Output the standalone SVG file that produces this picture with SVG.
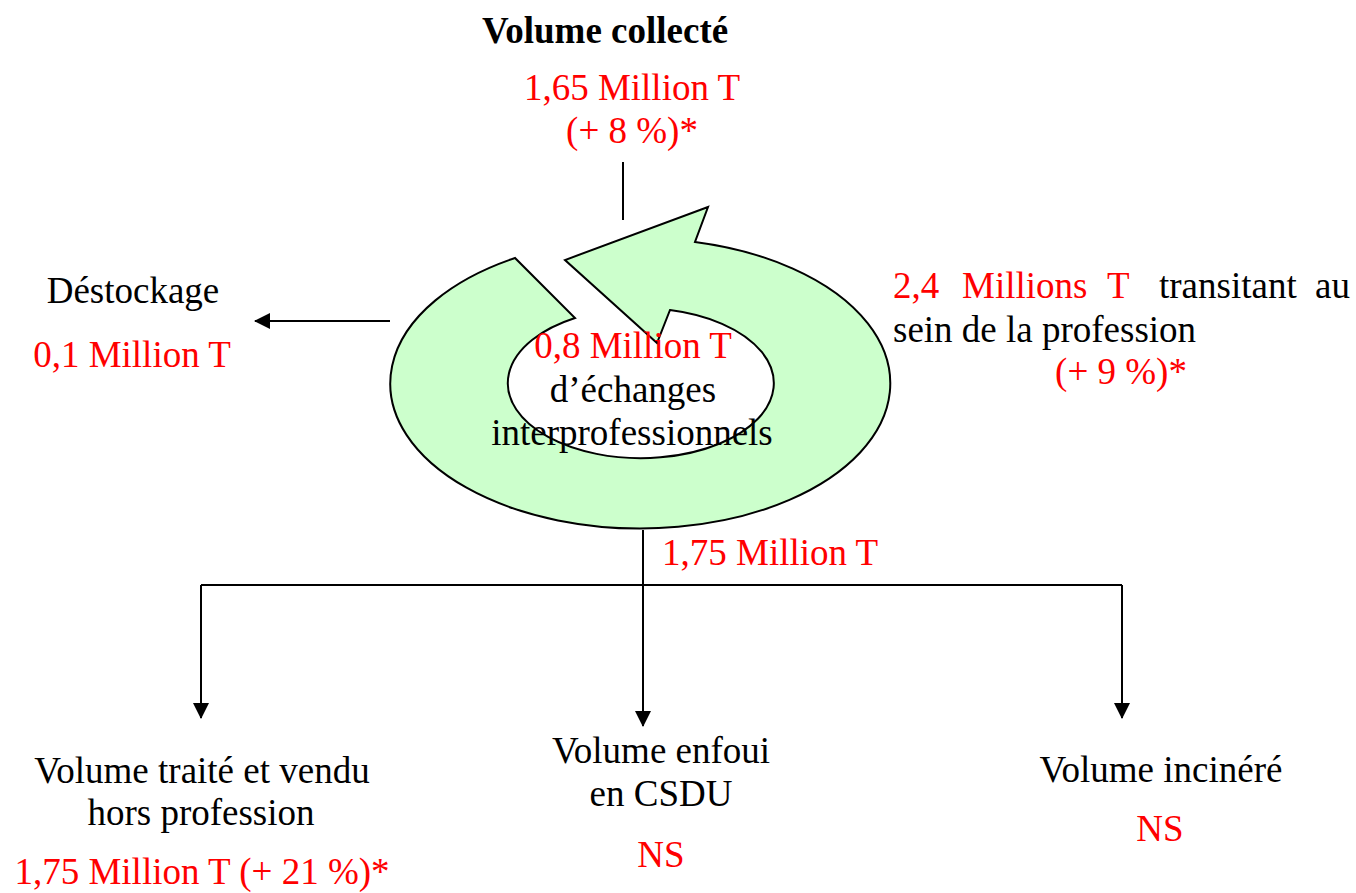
<svg xmlns="http://www.w3.org/2000/svg" width="1356" height="893" viewBox="0 0 1356 893">
<style>
text{font-family:"Liberation Serif","Times New Roman",serif;font-size:37px;fill:#000}
.r{fill:#ff0000}
.b{font-weight:bold}
.c{text-anchor:middle}
.ln{stroke:#000;stroke-width:2;fill:none}
</style>
<defs>
<marker id="ah" viewBox="0 0 16 16" refX="15" refY="8" markerWidth="16" markerHeight="16" markerUnits="userSpaceOnUse" orient="auto">
<path d="M0,0 L16,8 L0,16 Z" fill="#000"/>
</marker>
</defs>
<rect width="1356" height="893" fill="#fff"/>
<g id="cycle">
<path d="M695,242 A250,145 0 1 1 515,258 L575,318 A133,75 0 1 0 670,310 L657,343 L565,260 L708,207 Z" fill="#ccffcc" stroke="#000" stroke-width="2" stroke-linejoin="miter"/>
<text class="c r" x="633" y="358">0,8 Million T</text>
<text class="c" x="633" y="402">d’échanges</text>
<text class="c" x="632" y="445">interprofessionnels</text>
</g>
<g id="collecte">
<text class="c b" x="605" y="43">Volume collecté</text>
<text class="c r" x="632" y="100">1,65 Million T</text>
<text class="c r" x="632" y="143">(+ 8 %)*</text>
</g>
<g id="destockage">
<text class="c" x="133" y="303">Déstockage</text>
<text class="c r" x="132" y="367">0,1 Million T</text>
</g>
<g id="transit">
<text class="r" x="893" y="298">2,4</text>
<text class="r" x="962" y="298">Millions</text>
<text class="r" x="1107" y="298">T</text>
<text x="1159" y="298">transitant</text>
<text x="1350" y="298" text-anchor="end">au</text>
<text x="893" y="342">sein de la profession</text>
<text class="c r" x="1121" y="384">(+ 9 %)*</text>
</g>
<g id="sortie">
<text x="662" y="565" class="r">1,75 Million T</text>
</g>
<g id="vendu">
<text class="c" x="202" y="783">Volume traité et vendu</text>
<text class="c" x="201" y="825">hors profession</text>
<text class="c r" x="202" y="884">1,75 Million T (+ 21 %)*</text>
</g>
<g id="enfoui">
<text class="c" x="661" y="763">Volume enfoui</text>
<text class="c" x="661" y="806">en CSDU</text>
<text class="c r" x="661" y="867">NS</text>
</g>
<g id="incinere">
<text class="c" x="1161" y="782">Volume incinéré</text>
<text class="c r" x="1160" y="841">NS</text>
</g>
<g id="connectors">
<path class="ln" d="M623,162 V220"/>
<path class="ln" d="M390,321 H255" marker-end="url(#ah)"/>
<path class="ln" d="M643,530 V726" marker-end="url(#ah)"/>
<path class="ln" d="M201,585 H1122"/>
<path class="ln" d="M201,585 V718" marker-end="url(#ah)"/>
<path class="ln" d="M1122,585 V718" marker-end="url(#ah)"/>
</g>
</svg>
